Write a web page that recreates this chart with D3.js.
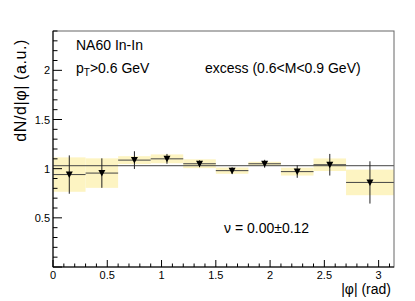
<!DOCTYPE html>
<html>
<head>
<meta charset="utf-8">
<script src="https://cdn.jsdelivr.net/npm/d3@7"></script>
<style>
body { margin: 0; background: #fff; }
text { font-family: "Liberation Sans", Arial, Helvetica, sans-serif; fill: #000; }
</style>
</head>
<body>
<script>
//bin edges in |phi| (rad)
var binLow  = [0.0, 0.3, 0.6, 0.9, 1.2, 1.5, 1.8, 2.1, 2.4, 2.7];
var binHigh = [0.3, 0.6, 0.9, 1.2, 1.5, 1.8, 2.1, 2.4, 2.7, 3.1416];
var binCenter = [0.15, 0.45, 0.75, 1.05, 1.35, 1.65, 1.95, 2.25, 2.55, 2.92];

//measured dN/d|phi| and errors
var values  = [0.94, 0.955, 1.087, 1.10, 1.05, 0.98, 1.05, 0.97, 1.04, 0.86];
var statErr = [0.195, 0.15, 0.09, 0.05, 0.035, 0.035, 0.04, 0.063, 0.11, 0.215];
var sysErr  = [0.175, 0.15, 0.04, 0.045, 0.045, 0.032, 0.02, 0.04, 0.064, 0.13];

//flat fit
var fitLevel = 1.03;

//tick labels
var xTickValues = [0, 0.5, 1, 1.5, 2, 2.5, 3];
var yTickValues = [0.5, 1, 1.5, 2];

window.onload = setChart();

function setChart(){

    var width = 415,
        height = 301;

    var margin = {top: 31, right: 21, bottom: 34, left: 53};

    var svg = d3.select("body")
        .append("svg")
        .attr("width", width)
        .attr("height", height);

    var x = d3.scaleLinear()
        .domain([0, 3.1416])
        .range([margin.left, width - margin.right]);

    var y = d3.scaleLinear()
        .domain([0, 2.4])
        .range([height - margin.bottom, margin.top]);

    //systematic boxes
    svg.selectAll(".sys")
        .data(values)
        .enter()
        .append("rect")
        .attr("class", "sys")
        .attr("x", function(d, i){ return x(binLow[i]); })
        .attr("width", function(d, i){ return x(binHigh[i]) - x(binLow[i]); })
        .attr("y", function(d, i){ return y(d + sysErr[i]); })
        .attr("height", function(d, i){ return y(d - sysErr[i]) - y(d + sysErr[i]); })
        .style("fill", "#fdf4c2");

    //fit line
    svg.append("line")
        .attr("x1", x(0))
        .attr("x2", x(3.1416))
        .attr("y1", y(fitLevel))
        .attr("y2", y(fitLevel))
        .style("stroke", "#444")
        .style("stroke-width", 1);

    //horizontal bin bars
    svg.selectAll(".xerr")
        .data(values)
        .enter()
        .append("line")
        .attr("x1", function(d, i){ return x(binLow[i]); })
        .attr("x2", function(d, i){ return x(binHigh[i]); })
        .attr("y1", function(d){ return y(d); })
        .attr("y2", function(d){ return y(d); })
        .style("stroke", "#444")
        .style("stroke-width", 1);

    //stat error bars
    svg.selectAll(".yerr")
        .data(values)
        .enter()
        .append("line")
        .attr("x1", function(d, i){ return x(binCenter[i]); })
        .attr("x2", function(d, i){ return x(binCenter[i]); })
        .attr("y1", function(d, i){ return y(d + statErr[i]); })
        .attr("y2", function(d, i){ return y(d - statErr[i]); })
        .style("stroke", "#222")
        .style("stroke-width", 1);

    //triangle-down markers
    svg.selectAll(".marker")
        .data(values)
        .enter()
        .append("path")
        .attr("transform", function(d, i){
            return "translate(" + x(binCenter[i]) + "," + y(d) + ")";
        })
        .attr("d", "M-3.5,-3L3.5,-3L0,3.5Z")
        .style("fill", "#000");

    //frame
    svg.append("rect")
        .attr("x", margin.left)
        .attr("y", margin.top)
        .attr("width", width - margin.left - margin.right)
        .attr("height", height - margin.top - margin.bottom)
        .style("fill", "none")
        .style("stroke", "#666")
        .style("stroke-width", 1);

    //x axis ticks
    var xMinor = d3.range(0, 3.15, 0.1);
    var bottom = y(0);
    svg.selectAll(".xtick")
        .data(xMinor)
        .enter()
        .append("line")
        .attr("x1", function(d){ return x(d); })
        .attr("x2", function(d){ return x(d); })
        .attr("y1", bottom)
        .attr("y2", function(d, i){ return i % 5 == 0 ? bottom - 7 : bottom - 3.5; })
        .style("stroke", "#000");

    svg.selectAll(".xlabel")
        .data(xTickValues)
        .enter()
        .append("text")
        .attr("x", function(d){ return x(d); })
        .attr("y", bottom + 12)
        .attr("text-anchor", "middle")
        .style("font-size", "11px")
        .text(function(d){ return d; });

    //y axis ticks
    var yMinor = d3.range(0, 2.41, 0.1);
    var left = x(0);
    svg.selectAll(".ytick")
        .data(yMinor)
        .enter()
        .append("line")
        .attr("y1", function(d){ return y(d); })
        .attr("y2", function(d){ return y(d); })
        .attr("x1", left)
        .attr("x2", function(d, i){ return i % 5 == 0 ? left + 9 : left + 4.5; })
        .style("stroke", "#000");

    svg.selectAll(".ylabel")
        .data(yTickValues)
        .enter()
        .append("text")
        .attr("x", left - 3)
        .attr("y", function(d){ return y(d) + 4; })
        .attr("text-anchor", "end")
        .style("font-size", "11px")
        .text(function(d){ return d; });

    //axis lines
    svg.append("line")
        .attr("x1", left).attr("x2", x(3.1416))
        .attr("y1", bottom).attr("y2", bottom)
        .style("stroke", "#000");
    svg.append("line")
        .attr("x1", left).attr("x2", left)
        .attr("y1", bottom).attr("y2", margin.top)
        .style("stroke", "#000");

    //axis titles
    svg.append("text")
        .attr("x", 391)
        .attr("y", 294)
        .attr("text-anchor", "end")
        .style("font-size", "14px")
        .text("|φ| (rad)");

    svg.append("text")
        .attr("transform", "translate(26,39) rotate(-90)")
        .attr("text-anchor", "end")
        .style("font-size", "16px")
        .style("letter-spacing", "0.6px")
        .text("dN/d|φ| (a.u.)");

    //labels inside the frame
    svg.append("text")
        .attr("x", 76)
        .attr("y", 50)
        .style("font-size", "14px")
        .text("NA60 In-In");

    var pt = svg.append("text")
        .attr("x", 76)
        .attr("y", 73)
        .style("font-size", "14px");
    pt.append("tspan").text("p");
    pt.append("tspan").attr("dy", 3).style("font-size", "10px").text("T");
    pt.append("tspan").attr("dy", -3).text(">0.6 GeV");

    svg.append("text")
        .attr("x", 205)
        .attr("y", 73)
        .style("font-size", "14px")
        .text("excess (0.6<M<0.9 GeV)");

    svg.append("text")
        .attr("x", 224)
        .attr("y", 233)
        .style("font-size", "14px")
        .text("ν = 0.00±0.12");
};
</script>
</body>
</html>
